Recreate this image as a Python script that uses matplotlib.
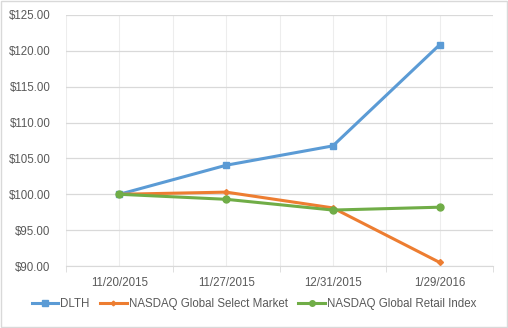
import matplotlib
matplotlib.use("Agg")
import matplotlib.pyplot as plt
from matplotlib.ticker import FuncFormatter, FixedLocator

dates = ["11/20/2015", "11/27/2015", "12/31/2015", "1/29/2016"]
dlth = [100.0, 104.05, 106.75, 120.85]
nasdaq_select = [100.0, 100.3, 98.1, 90.5]
nasdaq_retail = [100.0, 99.3, 97.8, 98.2]
y_ticks = [90, 95, 100, 105, 110, 115, 120, 125]

plt.rcParams["font.family"] = ["Liberation Sans", "DejaVu Sans"]
fs = 8.3
text_color = "#595959"
grid_color = "#D9D9D9"

fig = plt.figure(figsize=(5.08, 3.28), dpi=100)
ax = fig.add_axes([66 / 508, 1 - 266 / 328, (493 - 66) / 508, (266 - 15) / 328])

x = list(range(len(dates)))
ax.plot(x, dlth, color="#5B9BD5", lw=2.2, marker="s", ms=5, label="DLTH", zorder=3)
ax.plot(x, nasdaq_select, color="#ED7D31", lw=2.2, marker="D", ms=3,
        label="NASDAQ Global Select Market", zorder=3)
ax.plot(x, nasdaq_retail, color="#70AD47", lw=2.2, marker="o", ms=5,
        label="NASDAQ Global Retail Index", zorder=3)

ax.set_xlim(-0.5, len(dates) - 0.5)
ax.set_ylim(90, 125)
ax.set_yticks(y_ticks)
ax.yaxis.set_major_formatter(FuncFormatter(lambda v, p: f"${v:.2f}"))
ax.set_xticks(x)
ax.set_xticklabels(dates)
ax.xaxis.set_minor_locator(FixedLocator([i - 0.5 for i in range(len(dates) + 1)]))

ax.grid(axis="y", color=grid_color, lw=0.9)
ax.grid(axis="x", which="both", color="#EDEDED", lw=0.8)
ax.set_axisbelow(True)

for side in ["top", "right", "left"]:
    ax.spines[side].set_visible(False)
ax.spines["bottom"].set_color(grid_color)
ax.tick_params(axis="y", length=0, colors=text_color, labelsize=fs, pad=11)
ax.tick_params(axis="x", which="major", length=0, colors=text_color, labelsize=fs, pad=8)
ax.tick_params(axis="x", which="minor", length=4, color=grid_color)

fig.legend(loc="center", bbox_to_anchor=(0.5, 1 - 304 / 328), ncol=3, frameon=False,
           fontsize=fs, labelcolor=text_color, handlelength=2.3, handletextpad=0.2,
           columnspacing=0.9, markerscale=0.8)

fig.patches.append(plt.Rectangle((0.001, 0.002), 0.997, 0.995, transform=fig.transFigure,
                                 fill=False, edgecolor="#D9D9D9", lw=1))

fig.savefig("out.png", dpi=100)
